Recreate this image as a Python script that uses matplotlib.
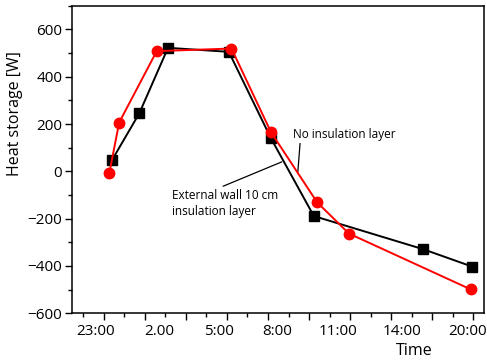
import matplotlib
matplotlib.use("Agg")
import matplotlib.pyplot as plt
from matplotlib.ticker import MultipleLocator
import matplotlib.transforms as mtransforms

plt.rcParams['font.family'] = ['Open Sans', 'DejaVu Sans']

# x in hours (axis units), y in W
x_insul = [0.42, 1.73, 3.13, 6.09, 8.14, 10.23, 15.55, 17.95]
y_insul = [50, 245, 522, 505, 140, -189, -329, -403]

x_noins = [0.27, 0.75, 2.58, 6.22, 8.14, 10.39, 11.94, 17.87]
y_noins = [-9, 206, 508, 519, 166, -131, -263, -499]

time_labels = ["23:00", "2.00", "5:00", "8:00", "11:00", "14:00", "20:00"]
time_label_pos = [-0.42, 2.69, 5.62, 8.45, 11.42, 14.54, 17.7]

fig = plt.figure(figsize=(4.87, 3.61), dpi=100)
ax = fig.add_axes([72/487, 1-313.3/361, (484.3-72)/487, (313.3-5.7)/361])

ax.plot(x_insul, y_insul, color='black', lw=1.4, marker='s', ms=6.5, zorder=3)
ax.plot(x_noins, y_noins, color='#ff0000', lw=1.4, marker='o', ms=7.5, zorder=4)

ax.set_xlim(-1.545, 18.53)
ax.set_ylim(-600, 700)
ax.xaxis.set_major_locator(MultipleLocator(2))
ax.xaxis.set_minor_locator(MultipleLocator(1))
ax.set_xticklabels([])
ax.set_yticks([-600, -400, -200, 0, 200, 400, 600])
ax.set_yticklabels(["\u2212600", "\u2212400", "\u2212200", "0", "200", "400", "600"])
ax.yaxis.set_minor_locator(MultipleLocator(100))
ax.tick_params(axis='y', which='major', length=5, width=1, labelsize=11, pad=2)
ax.tick_params(axis='y', which='minor', length=3, width=1)
ax.tick_params(axis='x', which='major', length=5, width=1)
ax.tick_params(axis='x', which='minor', length=3, width=1)
for s in ax.spines.values():
    s.set_linewidth(1.1)

trans = mtransforms.blended_transform_factory(ax.transData, ax.transAxes)
for lbl, pos in zip(time_labels, time_label_pos):
    ax.text(pos, -0.035, lbl, transform=trans, ha='center', va='top', fontsize=11)

ax.set_ylabel("Heat storage [W]", fontsize=11.5)
ax.yaxis.set_label_coords(-0.118, 0.65)
ax.text(0.83, -0.095, "Time", transform=ax.transAxes, ha='center', va='top', fontsize=11.5)

# annotations
ax.annotate("No insulation layer", xy=(9.45, -3), xytext=(9.22, 157),
            fontsize=8.5, ha='left', va='center',
            arrowprops=dict(arrowstyle='-', color='black', lw=0.9,
                            shrinkA=0, shrinkB=0, relpos=(0.07, 0)))
ax.annotate("External wall 10 cm\ninsulation layer", xy=(8.67, 40), xytext=(3.33, -136),
            fontsize=8.5, ha='left', va='center', linespacing=1.3,
            arrowprops=dict(arrowstyle='-', color='black', lw=0.9,
                            shrinkA=0, shrinkB=0, relpos=(0.45, 1.05)))

fig.savefig("out.png", dpi=100)
